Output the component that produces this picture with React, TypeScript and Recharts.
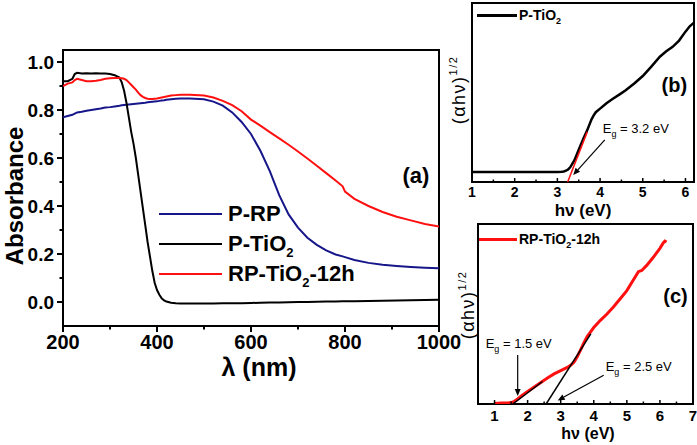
import React from 'react';
import { LineChart, Line, XAxis, YAxis, ReferenceArea, ReferenceDot, ReferenceLine, Legend } from 'recharts';

const FONT = '"Liberation Sans", Arial, Helvetica, sans-serif';
const BLUE = '#16168a';
const RED = '#ff1010';

// ---------- Panel (a): absorbance spectra ----------
const wavelengths = [200, 210, 220, 225, 230, 240, 250, 260, 270, 280, 290, 300, 310, 320,
  325, 330, 335, 340, 345, 350, 355, 360, 365, 370, 375, 380, 385, 390, 395, 400, 405, 410, 415, 420,
  430, 440, 450, 470, 500,
  520, 540, 560, 580, 600, 620, 640, 660, 680, 700, 720, 740, 760, 780,
  795, 800, 820, 850, 880, 910, 940, 970, 1000];
const absPRP = [0.77, 0.775, 0.78, 0.785, 0.79, 0.793, 0.797, 0.8, 0.803, 0.806, 0.81, 0.812, 0.815, 0.818,
  0.82, 0.821, 0.822, 0.823, 0.824, 0.825, 0.826, 0.827, 0.828, 0.829, 0.83, 0.832, 0.833, 0.834, 0.835, 0.836, 0.838, 0.84, 0.841, 0.843,
  0.845, 0.847, 0.848, 0.848, 0.845,
  0.835, 0.818, 0.79, 0.75, 0.7, 0.63, 0.545, 0.445, 0.365, 0.31, 0.268, 0.238, 0.215, 0.198,
  0.19, 0.187, 0.175, 0.163, 0.155, 0.15, 0.146, 0.143, 0.141];
const absPTiO2 = [0.92, 0.92, 0.93, 0.95, 0.955, 0.952, 0.953, 0.952, 0.953, 0.952, 0.952, 0.95, 0.945, 0.935,
  0.915, 0.88, 0.83, 0.77, 0.71, 0.66, 0.6, 0.53, 0.46, 0.39, 0.32, 0.25, 0.19, 0.13, 0.08, 0.05, 0.03, 0.015, 0.007, 0.002,
  -0.003, -0.005, -0.006, -0.006, -0.006,
  -0.006, -0.005, -0.005, -0.005, -0.004, -0.003, -0.002, -0.002, -0.001, 0, 0, 0.001, 0.002, 0.002,
  0.003, 0.003, 0.003, 0.004, 0.005, 0.006, 0.007, 0.008, 0.009];
const absRP12h = [0.9, 0.91, 0.915, 0.925, 0.93, 0.925, 0.92, 0.92, 0.922, 0.925, 0.93, 0.932, 0.933, 0.933,
  0.932, 0.93, 0.925, 0.915, 0.905, 0.895, 0.885, 0.872, 0.862, 0.855, 0.85, 0.847, 0.846, 0.846, 0.847, 0.848, 0.85, 0.852, 0.854, 0.856,
  0.86, 0.862, 0.864, 0.864, 0.86,
  0.852, 0.838, 0.82, 0.795, 0.76, 0.735, 0.708, 0.682, 0.655, 0.627, 0.598, 0.568, 0.537, 0.506,
  0.482, 0.46, 0.43, 0.4, 0.375, 0.355, 0.34, 0.325, 0.315];
const seriesNames = ['P-RP', 'P-TiO2', 'RP-TiO2-12h'];
const wlTicks = [200, 300, 400, 500, 600, 700, 800, 900, 1000];
const absTicks = [0, 0.1, 0.2, 0.3, 0.4, 0.5, 0.6, 0.7, 0.8, 0.9, 1.0];

// ---------- Panel (b): Tauc plot P-TiO2 ----------
const tiO2Energy = [1.0, 1.5, 2.0, 2.5, 3.0, 3.1, 3.15, 3.2, 3.25, 3.3,
  3.4, 3.5, 3.6, 3.7, 3.8, 3.85, 3.9, 4.0,
  4.15, 4.3, 4.45, 4.6, 4.8,
  5.0, 5.2, 5.4, 5.55, 5.7, 5.85,
  6.0, 6.1, 6.2];
const tiO2Tauc = [0.056, 0.056, 0.056, 0.056, 0.056, 0.057, 0.059, 0.063, 0.07, 0.082,
  0.122, 0.18, 0.237, 0.29, 0.35, 0.372, 0.39, 0.41,
  0.44, 0.465, 0.488, 0.512, 0.55,
  0.592, 0.645, 0.7, 0.73, 0.755, 0.79,
  0.84, 0.87, 0.89];
const tiO2FitEnergy = [3.24, 3.7];
const tiO2FitTauc = [0, 0.28];
const bTicks = [1, 1.5, 2, 2.5, 3, 3.5, 4, 4.5, 5, 5.5, 6];

// ---------- Panel (c): Tauc plot RP-TiO2-12h ----------
const rpEnergy = [1.0, 1.2, 1.4, 1.5, 1.6, 1.7, 1.8,
  2.0, 2.2, 2.4, 2.6, 2.8,
  3.0, 3.2, 3.3, 3.4, 3.5, 3.6, 3.7, 3.8,
  4.0, 4.2, 4.4, 4.6, 4.8,
  5.0, 5.2, 5.35, 5.45, 5.6, 5.8,
  6.0, 6.1, 6.15, 6.2];
const rpTauc = [0.003, 0.005, 0.006, 0.008, 0.015, 0.028, 0.043,
  0.07, 0.095, 0.12, 0.145, 0.167,
  0.185, 0.203, 0.215, 0.232, 0.262, 0.3, 0.34, 0.375,
  0.425, 0.465, 0.5, 0.54, 0.585,
  0.63, 0.69, 0.735, 0.742, 0.77, 0.815,
  0.865, 0.895, 0.905, 0.9];
const rpFit1Energy = [1.55, 2.45];
const rpFit1Tauc = [0, 0.125];
const rpFit2Energy = [2.56, 3.91];
const rpFit2Tauc = [0, 0.39];
const cTicks = [1, 1.5, 2, 2.5, 3, 3.5, 4, 4.5, 5, 5.5, 6, 6.5, 7];

// ---------- derived tables ----------
const mainData = wavelengths.map((wl, i) => ({ wl, pRP: absPRP[i], pTiO2: absPTiO2[i], rp12: absRP12h[i] }));
const toXY = (xs: number[], ys: number[]) => xs.map((x, i) => ({ x, y: ys[i] }));
const tiO2Data = toXY(tiO2Energy, tiO2Tauc);
const tiO2Fit = toXY(tiO2FitEnergy, tiO2FitTauc);
const rpData = toXY(rpEnergy, rpTauc);
const rpFit1 = toXY(rpFit1Energy, rpFit1Tauc);
const rpFit2 = toXY(rpFit2Energy, rpFit2Tauc);

// ---------- helpers ----------
const Chem = ({ text, subSize, subTop }: { text: string; subSize: number; subTop: number }) => {
  const parts = text.split('TiO2');
  return (
    <>
      {parts.map((p, i) => (
        <React.Fragment key={i}>
          {p}
          {i < parts.length - 1 && (
            <>
              TiO
              <span style={{ fontSize: subSize, position: 'relative', top: subTop }}>2</span>
            </>
          )}
        </React.Fragment>
      ))}
    </>
  );
};

const makeLegend = (o: { rowH: number; lineW: number; lineH: number; gap: number; fontSize: number; subSize: number; subTop: number }) =>
  (props: any) => {
    const payload = (props.payload || []).filter((e: any) => e.type !== 'none' && seriesNames.includes(e.value));
    return (
      <div style={{ fontFamily: FONT, fontWeight: 'bold', color: '#000' }}>
        {payload.map((e: any) => (
          <div key={e.value} style={{ display: 'flex', alignItems: 'center', height: o.rowH, whiteSpace: 'nowrap' }}>
            <span style={{ display: 'inline-block', width: o.lineW, height: o.lineH, background: e.color, marginRight: o.gap }} />
            <span style={{ fontSize: o.fontSize, lineHeight: 1 }}>
              <Chem text={e.value} subSize={o.subSize} subTop={o.subTop} />
            </span>
          </div>
        ))}
      </div>
    );
  };

const MainXTick = (p: any) => {
  const { x, y, payload } = p;
  const v = payload.value;
  const major = v % 200 === 0;
  return (
    <g>
      <line x1={x} x2={x} y1={y} y2={y + (major ? 6 : 3.5)} stroke="#000" strokeWidth={2} />
      {major && (
        <text x={x} y={y + 23} textAnchor="middle" fontSize={20} fontWeight="bold" fontFamily={FONT} fill="#000">{v}</text>
      )}
    </g>
  );
};

const MainYTick = (p: any) => {
  const { x, y, payload } = p;
  const v = payload.value;
  const k = Math.round(v * 10);
  const major = k % 2 === 0;
  return (
    <g>
      <line x1={x} x2={x - (major ? 6 : 3.5)} y1={y} y2={y} stroke="#000" strokeWidth={2} />
      {major && (
        <text x={x - 9} y={y} dy="0.36em" textAnchor="end" fontSize={19} fontWeight="bold" fontFamily={FONT} fill="#000">{v.toFixed(1)}</text>
      )}
    </g>
  );
};

const makeEvTick = (gap: number, fontSize: number) => (p: any) => {
  const { x, y, payload } = p;
  const v = payload.value;
  const major = Number.isInteger(v);
  return (
    <g>
      <line x1={x} x2={x} y1={y} y2={y - (major ? 4 : 2.5)} stroke="#000" strokeWidth={1.5} />
      {major && (
        <text x={x} y={y + gap} textAnchor="middle" fontSize={fontSize} fontWeight="bold" fontFamily={FONT} fill="#000">{v}</text>
      )}
    </g>
  );
};

const panelTag = (tag: string, size: number) => (props: any) => {
  const vb = props.viewBox || { x: 0, y: 0, width: 0, height: 0 };
  const cx = vb.x + (vb.width || 0) / 2;
  const cy = vb.y + (vb.height || 0) / 2;
  return (
    <text x={cx} y={cy} dy="0.35em" textAnchor="middle" fontSize={size} fontWeight="bold" fontFamily={FONT} fill="#000">{tag}</text>
  );
};

const makeArrow = (value: string, dx: number, dy: number) => (p: any) => {
  const { x1, y1, x2, y2 } = p;
  const ang = Math.atan2(y2 - y1, x2 - x1);
  const L = 7;
  const W = 3;
  const bx = x2 - L * Math.cos(ang);
  const by = y2 - L * Math.sin(ang);
  const px = -Math.sin(ang) * W;
  const py = Math.cos(ang) * W;
  return (
    <g>
      <line x1={x1} y1={y1} x2={bx} y2={by} stroke="#000" strokeWidth={1.2} />
      <polygon points={`${x2},${y2} ${bx + px},${by + py} ${bx - px},${by - py}`} fill="#000" />
      <text x={x1 + dx} y={y1 + dy} fontSize={13} fontFamily={FONT} fill="#000">
        E<tspan dy={4} fontSize={9}>g</tspan><tspan dy={-4}>{' = ' + value}</tspan>
      </text>
    </g>
  );
};

const taucLabel = (x: number, y: number) => () => (
  <text x={x} y={y} transform={`rotate(-90 ${x} ${y})`} textAnchor="middle" fontSize={18} letterSpacing={1.5} fontFamily={FONT} fill="#000">
    (αhν)<tspan dy={-8} fontSize={11}>1/2</tspan>
  </text>
);

const evLabel = (x: number, y: number, size: number) => () => (
  <text x={x} y={y} textAnchor="middle" fontSize={size} fontWeight="bold" fontFamily={FONT} fill="#000">hν (eV)</text>
);

// ---------- panels ----------
const PanelA = () => (
  <LineChart width={697} height={445} data={mainData} margin={{ top: 50, right: 258, bottom: 0, left: 0 }}>
    <XAxis dataKey="wl" type="number" domain={[200, 1000]} ticks={wlTicks} interval={0} allowDataOverflow
      axisLine={false} tickLine={false} tickSize={0} tickMargin={0} height={119} tick={MainXTick}
      label={{ content: () => (
        <text x={259} y={376} textAnchor="middle" fontSize={25} fontWeight="bold" fontFamily={FONT} fill="#000">λ (nm)</text>
      ) }} />
    <YAxis type="number" domain={[-0.1, 1.05]} ticks={absTicks} interval={0} allowDataOverflow
      axisLine={false} tickLine={false} tickSize={0} tickMargin={0} width={63} tick={MainYTick}
      label={{ content: () => (
        <text x={23} y={196} transform="rotate(-90 23 196)" textAnchor="middle" fontSize={24} fontWeight="bold" fontFamily={FONT} fill="#000">Absorbance</text>
      ) }} />
    <ReferenceArea x1={200} x2={1000} y1={-0.1} y2={1.05} fill="none" stroke="#000" strokeWidth={2} ifOverflow="visible" />
    <Line dataKey="pRP" name={seriesNames[0]} stroke={BLUE} strokeWidth={2} dot={false} isAnimationActive={false} />
    <Line dataKey="pTiO2" name={seriesNames[1]} stroke="#000" strokeWidth={2} dot={false} isAnimationActive={false} />
    <Line dataKey="rp12" name={seriesNames[2]} stroke={RED} strokeWidth={2} dot={false} isAnimationActive={false} />
    <ReferenceDot x={951} y={0.529} r={0} fill="none" stroke="none" ifOverflow="visible" label={{ content: panelTag('(a)', 22) }} />
    <Legend layout="vertical" align="center" verticalAlign="middle"
      wrapperStyle={{ left: 159, top: 199, width: 'auto', height: 'auto' }}
      content={makeLegend({ rowH: 30, lineW: 63, lineH: 2, gap: 6, fontSize: 22, subSize: 13, subTop: 6 })} />
  </LineChart>
);

const PanelB = () => (
  <LineChart width={697} height={445} margin={{ top: 3, right: 3, bottom: 0, left: 440 }}>
    <XAxis dataKey="x" type="number" domain={[1, 6.2]} ticks={bTicks} interval={0} allowDataOverflow
      axisLine={false} tickLine={false} tickSize={0} tickMargin={0} height={263} tick={makeEvTick(15, 14)}
      label={{ content: evLabel(583, 216, 17) }} />
    <YAxis type="number" domain={[0, 1]} allowDataOverflow width={32} tick={false} axisLine={false} tickLine={false}
      label={{ content: taucLabel(465, 90) }} />
    <ReferenceArea x1={1} x2={6.2} y1={0} y2={1} fill="none" stroke="#000" strokeWidth={2} ifOverflow="visible" />
    <Line data={tiO2Data} dataKey="y" name="P-TiO2" stroke="#000" strokeWidth={2.5} dot={false} isAnimationActive={false} />
    <Line data={tiO2Fit} dataKey="y" name="fit" legendType="none" stroke={RED} strokeWidth={1.5} dot={false} isAnimationActive={false} />
    <ReferenceLine segment={[{ x: 4.11, y: 0.235 }, { x: 3.37, y: 0.039 }]} ifOverflow="visible" shape={makeArrow('3.2 eV', -2, -7)} />
    <ReferenceDot x={5.74} y={0.542} r={0} fill="none" stroke="none" ifOverflow="visible" label={{ content: panelTag('(b)', 20) }} />
    <Legend layout="vertical" align="center" verticalAlign="middle"
      wrapperStyle={{ left: 477, top: 6, width: 'auto', height: 'auto' }}
      content={makeLegend({ rowH: 18, lineW: 40, lineH: 3, gap: 2, fontSize: 14, subSize: 9, subTop: 4 })} />
  </LineChart>
);

const PanelC = () => (
  <LineChart width={697} height={445} margin={{ top: 224, right: 4, bottom: 0, left: 440 }}>
    <XAxis dataKey="x" type="number" domain={[0.5, 7]} ticks={cTicks} interval={0} allowDataOverflow
      axisLine={false} tickLine={false} tickSize={0} tickMargin={0} height={41} tick={makeEvTick(17, 15)}
      label={{ content: evLabel(588, 439, 16) }} />
    <YAxis type="number" domain={[0, 1]} allowDataOverflow width={38} tick={false} axisLine={false} tickLine={false}
      label={{ content: taucLabel(474, 305) }} />
    <ReferenceArea x1={0.5} x2={7} y1={0} y2={1} fill="none" stroke="#000" strokeWidth={2} ifOverflow="visible" />
    <Line data={rpData} dataKey="y" name="RP-TiO2-12h" stroke={RED} strokeWidth={3} dot={false} isAnimationActive={false} />
    <Line data={rpFit1} dataKey="y" name="fit1" legendType="none" stroke="#000" strokeWidth={1.5} dot={false} isAnimationActive={false} />
    <Line data={rpFit2} dataKey="y" name="fit2" legendType="none" stroke="#000" strokeWidth={1.5} dot={false} isAnimationActive={false} />
    <ReferenceLine segment={[{ x: 1.7, y: 0.272 }, { x: 1.7, y: 0.045 }]} ifOverflow="visible" shape={makeArrow('1.5 eV', -32, -7)} />
    <ReferenceLine segment={[{ x: 4.3, y: 0.16 }, { x: 2.91, y: 0.02 }]} ifOverflow="visible" shape={makeArrow('2.5 eV', 2, -4)} />
    <ReferenceDot x={6.47} y={0.6} r={0} fill="none" stroke="none" ifOverflow="visible" label={{ content: panelTag('(c)', 20) }} />
    <Legend layout="vertical" align="center" verticalAlign="middle"
      wrapperStyle={{ left: 479, top: 230, width: 'auto', height: 'auto' }}
      content={makeLegend({ rowH: 18, lineW: 38, lineH: 3, gap: 2, fontSize: 14, subSize: 9, subTop: 4 })} />
  </LineChart>
);

export default function App() {
  return (
    <div style={{ position: 'absolute', left: 0, top: 0, width: 697, height: 445, background: '#fff', fontFamily: FONT, overflow: 'hidden' }}>
      <div style={{ position: 'absolute', left: 0, top: 0 }}><PanelA /></div>
      <div style={{ position: 'absolute', left: 0, top: 0 }}><PanelB /></div>
      <div style={{ position: 'absolute', left: 0, top: 0 }}><PanelC /></div>
    </div>
  );
}
